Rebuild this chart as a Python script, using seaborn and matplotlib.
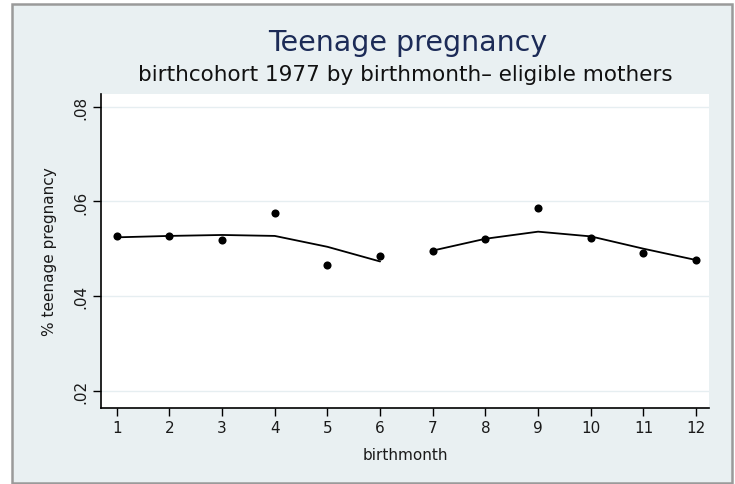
import matplotlib
matplotlib.use("Agg")
import matplotlib.pyplot as plt
from matplotlib.patches import Rectangle
import seaborn as sns
import pandas as pd

# ---- data ----
months = [1, 2, 3, 4, 5, 6, 7, 8, 9, 10, 11, 12]
pct_teen = [0.0526, 0.0526, 0.0519, 0.0576, 0.0466, 0.0485,
            0.0496, 0.0521, 0.0586, 0.0523, 0.0491, 0.0476]
fitted = [0.0524, 0.0527, 0.0529, 0.0527, 0.0504, 0.0473,
          0.0496, 0.0521, 0.0536, 0.0526, 0.0500, 0.0476]
segment = ["a"] * 6 + ["b"] * 6
y_ticks = [0.02, 0.04, 0.06, 0.08]
y_ticklabels = [".02", ".04", ".06", ".08"]
title = "Teenage pregnancy"
subtitle = "birthcohort 1977 by birthmonth\u2013 eligible mothers"
xlabel = "birthmonth"
ylabel = "% teenage pregnancy"

df = pd.DataFrame({"month": months, "pct": pct_teen, "fit": fitted, "seg": segment})

sns.set_theme(style="white")
plt.rcParams["font.family"] = ["DejaVu Sans"]

W, H = 735, 485
fig = plt.figure(figsize=(W / 100, H / 100), dpi=100, facecolor="white")

bg = "#E9F0F2"
frame = Rectangle((12 / W, 1 - 484 / H), 720 / W, 479 / H, transform=fig.transFigure,
                  facecolor=bg, edgecolor="#9A9A9A", linewidth=1.8, zorder=-5)
fig.patches.append(frame)

ax = fig.add_axes([101 / W, 1 - 408.5 / H, (709.3 - 101) / W, (408.5 - 95) / H])
ax.set_zorder(2)
ax.set_facecolor("white")

for v in y_ticks:
    ax.axhline(v, color="#E6EEF1", lw=1.0, zorder=0)

for s, sub in df.groupby("seg"):
    sns.lineplot(data=sub, x="month", y="fit", ax=ax, color="black", lw=1.3,
                 legend=False, zorder=2)
sns.scatterplot(data=df, x="month", y="pct", ax=ax, color="black", s=34,
                edgecolor="black", linewidth=0, zorder=3, legend=False)

ax.set_xlim(0.702, 12.25)
ax.set_ylim(0.01643, 0.0827)
ax.set_xticks(months)
ax.set_xticklabels([str(m) for m in months])
ax.set_yticks(y_ticks)
ax.set_yticklabels(y_ticklabels, rotation=90, va="center")

for side in ["top", "right"]:
    ax.spines[side].set_visible(False)
for side in ["left", "bottom"]:
    ax.spines[side].set_color("black")
    ax.spines[side].set_linewidth(1.2)

ax.tick_params(axis="both", which="major", direction="out", length=6, width=1.0,
               color="black", labelsize=11, labelcolor="#1a1a1a", pad=3,
               bottom=True, left=True)

ax.set_xlabel(xlabel, fontsize=11, color="#1a1a1a", labelpad=9)
ax.set_ylabel(ylabel, fontsize=11, color="#1a1a1a", labelpad=12)

fig.text(408 / W, 1 - 43 / H, title, ha="center", va="center", fontsize=20.5,
         color="#1C2B57")
fig.text(405 / W, 1 - 75 / H, subtitle, ha="center", va="center", fontsize=15.5,
         color="#111111")

fig.savefig("out.png", dpi=100, facecolor="white")
